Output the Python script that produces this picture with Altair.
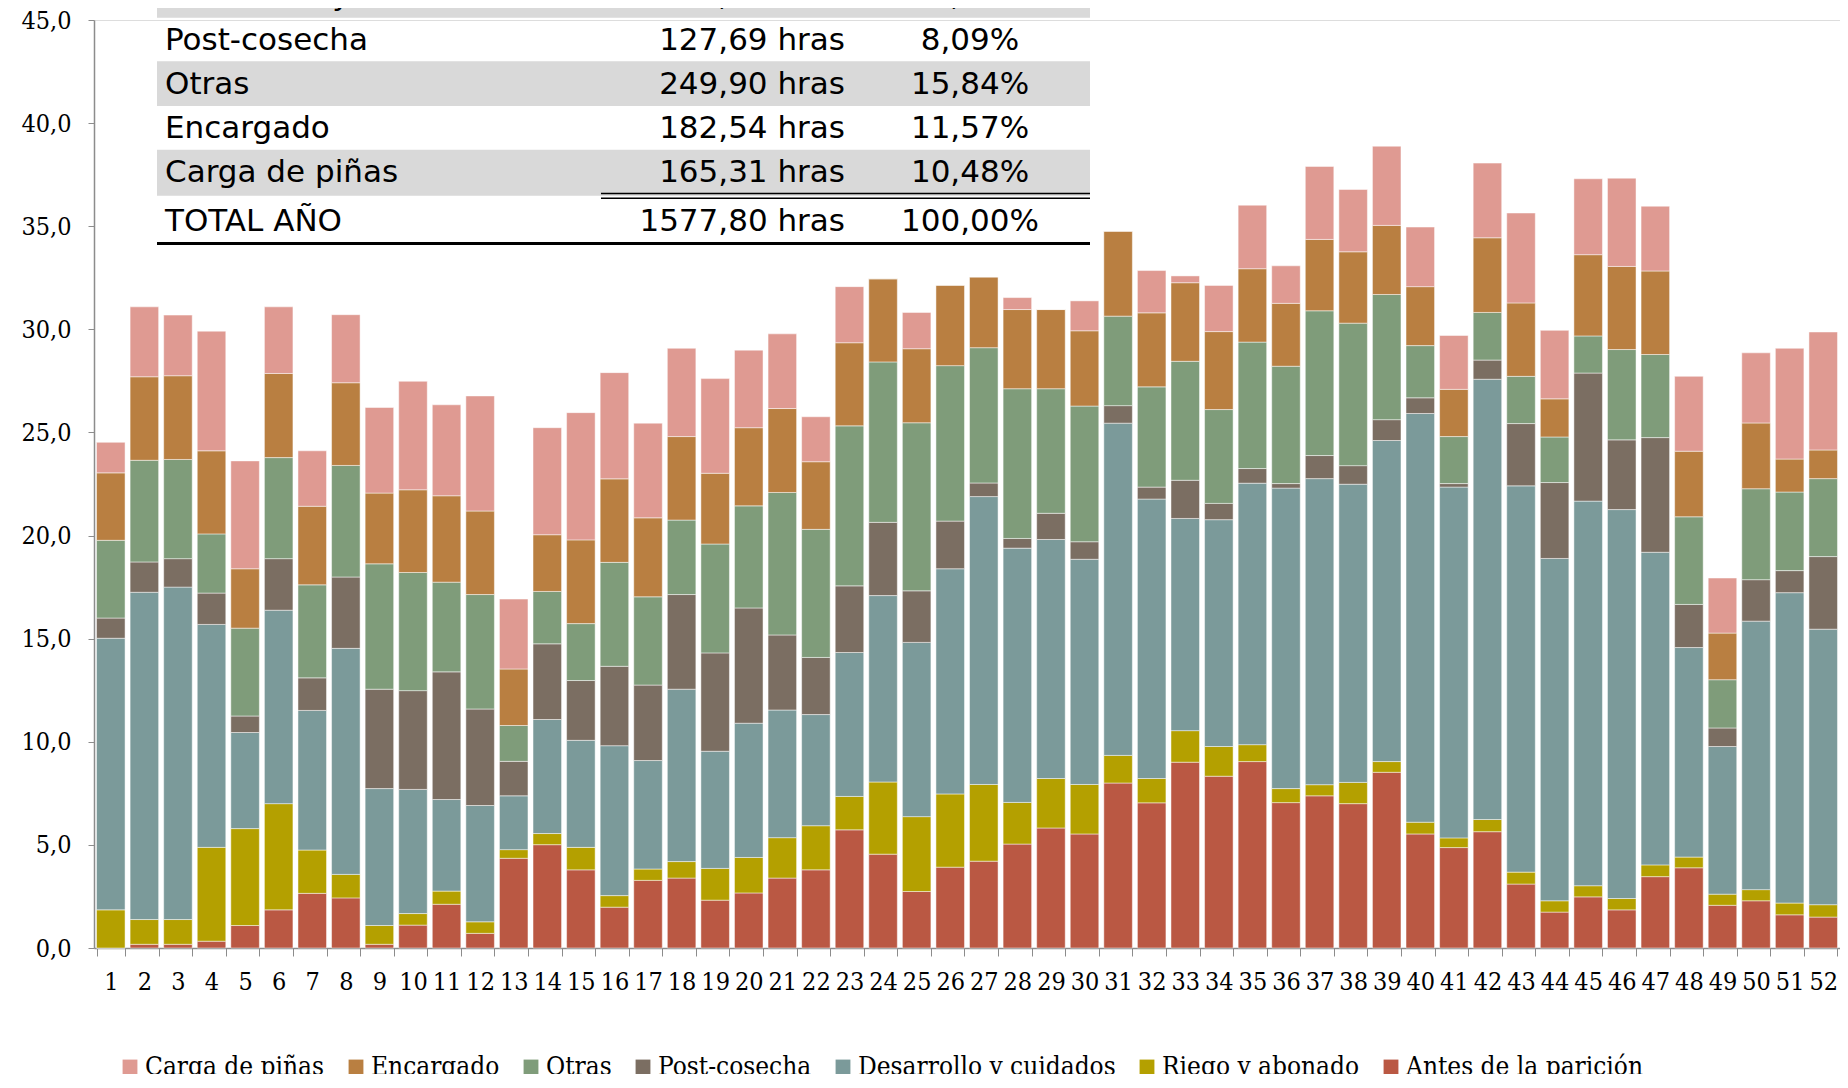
import altair as alt
import pandas as pd

weeks = list(range(1, 53))

categories = ["Antes de la parición", "Riego y abonado", "Desarrollo y cuidados",
              "Post-cosecha", "Otras", "Encargado", "Carga de piñas"]
colors = ["#BA5843", "#B4A000", "#7B9A9A", "#7B6E62", "#7F9C7A", "#B97F41", "#DF9A92"]

antes = [0.00, 0.18, 0.18, 0.33, 1.09, 1.85, 2.65, 2.43, 0.18, 1.11,
         2.12, 0.71, 4.35, 5.01, 3.79, 1.98, 3.28, 3.39, 2.32, 2.67,
         3.39, 3.79, 5.73, 4.55, 2.74, 3.92, 4.21, 5.04, 5.82, 5.53,
         8.00, 7.04, 9.01, 8.33, 9.04, 7.05, 7.38, 7.00, 8.52, 5.53,
         4.87, 5.64, 3.10, 1.74, 2.48, 1.85, 3.46, 3.89, 2.07, 2.29,
         1.61, 1.50]
riego = [1.85, 1.20, 1.20, 4.55, 4.70, 5.15, 2.10, 1.14, 0.91, 0.56,
         0.64, 0.56, 0.42, 0.54, 1.09, 0.56, 0.55, 0.80, 1.54, 1.72,
         1.96, 2.14, 1.62, 3.50, 3.63, 3.55, 3.72, 2.02, 2.40, 2.40,
         1.34, 1.18, 1.53, 1.44, 0.82, 0.68, 0.54, 1.03, 0.52, 0.57,
         0.47, 0.59, 0.58, 0.55, 0.54, 0.55, 0.57, 0.52, 0.54, 0.54,
         0.57, 0.60]
desarrollo = [13.17, 15.87, 16.12, 10.81, 4.66, 9.38, 6.77, 10.96, 6.64, 6.02,
              4.44, 5.64, 2.61, 5.53, 5.19, 7.27, 5.26, 8.36, 5.68, 6.51,
              6.19, 5.39, 6.98, 9.04, 8.45, 10.92, 13.96, 12.33, 11.59, 10.92,
              16.11, 13.55, 10.29, 11.00, 12.68, 14.57, 14.84, 14.46, 15.57, 19.82,
              17.01, 21.35, 18.73, 16.60, 18.65, 18.86, 15.16, 10.16, 7.16, 13.02,
              15.05, 13.36]
postcosecha = [0.98, 1.47, 1.38, 1.52, 0.80, 2.50, 1.58, 3.46, 4.82, 4.79,
               6.19, 4.68, 1.67, 3.67, 2.90, 3.85, 3.66, 4.59, 4.77, 5.59,
               3.64, 2.77, 3.23, 3.55, 2.50, 2.31, 0.66, 0.47, 1.27, 0.85,
               0.85, 0.58, 1.85, 0.79, 0.71, 0.22, 1.12, 0.90, 1.01, 0.76,
               0.17, 0.93, 3.02, 3.68, 6.21, 3.38, 5.56, 2.09, 0.90, 2.01,
               1.07, 3.52]
otras = [3.77, 4.93, 4.81, 2.87, 4.26, 4.90, 4.51, 5.41, 6.08, 5.73,
         4.35, 5.55, 1.74, 2.54, 2.76, 5.04, 4.28, 3.61, 5.28, 4.95,
         6.91, 6.21, 7.76, 7.78, 8.15, 7.54, 6.56, 7.26, 6.04, 6.58,
         4.34, 4.86, 5.77, 4.55, 6.13, 5.69, 7.02, 6.91, 6.07, 2.53,
         2.28, 2.31, 2.29, 2.21, 1.80, 4.38, 4.03, 4.25, 2.34, 4.41,
         3.81, 3.78]
encargado = [3.27, 4.05, 4.06, 4.03, 2.88, 4.08, 3.81, 4.01, 3.43, 4.01,
             4.19, 4.05, 2.74, 2.75, 4.06, 4.05, 3.83, 4.05, 3.43, 3.79,
             4.07, 3.28, 4.03, 4.03, 3.59, 3.90, 3.43, 3.84, 3.84, 3.65,
             4.12, 3.59, 3.81, 3.78, 3.56, 3.05, 3.46, 3.46, 3.35, 2.86,
             2.29, 3.62, 3.56, 1.85, 3.94, 4.03, 4.05, 3.18, 2.26, 3.19,
             1.60, 1.39]
carga = [1.48, 3.39, 2.94, 5.80, 5.23, 3.23, 2.69, 3.30, 4.15, 5.26,
         4.41, 5.58, 3.39, 5.19, 6.17, 5.15, 4.59, 4.28, 4.59, 3.76,
         3.62, 2.18, 2.72, 0.00, 1.76, 0.00, 0.00, 0.58, 0.00, 1.45,
         0.00, 2.05, 0.33, 2.24, 3.08, 1.82, 3.54, 3.02, 3.84, 2.89,
         2.61, 3.62, 4.36, 3.32, 3.68, 4.28, 3.14, 3.63, 2.67, 3.40,
         5.37, 5.72]

series = [antes, riego, desarrollo, postcosecha, otras, encargado, carga]

# summary table (only the visible rows)
tabla_actividad = ["Desarrollo y cuidados", "Post-cosecha", "Otras", "Encargado",
                   "Carga de piñas", "TOTAL AÑO"]
tabla_horas = ["580,15 hras", "127,69 hras", "249,90 hras", "182,54 hras",
               "165,31 hras", "1577,80 hras"]
tabla_pct = ["36,77%", "8,09%", "15,84%", "11,57%", "10,48%", "100,00%"]

rows = []
for k, (cat, vals) in enumerate(zip(categories, series)):
    for w, v in zip(weeks, vals):
        rows.append({"semana": w, "actividad": cat, "horas": v, "orden": k})
df = pd.DataFrame(rows)

legend_order = list(reversed(categories))
legend_colors = list(reversed(colors))

SERIF = "'DejaVu Serif Condensed', 'Liberation Serif', serif"
SANS = "'DejaVu Sans', 'Open Sans', sans-serif"

bars = alt.Chart(df).mark_bar(stroke="white", strokeWidth=0.8, strokeOpacity=0.6).encode(
    x=alt.X("semana:O",
            scale=alt.Scale(paddingInner=0.15, paddingOuter=0.075),
            axis=alt.Axis(title=None, labelAngle=0, tickBand="extent", tickSize=8,
                          labelPadding=13, labelFont=SERIF, labelFontSize=25,
                          labelColor="black", domainColor="#8c8c8c", tickColor="#8c8c8c",
                          domainWidth=1.5)),
    y=alt.Y("horas:Q", stack="zero",
            scale=alt.Scale(domain=[0, 45], nice=False),
            axis=alt.Axis(title=None, values=[0, 5, 10, 15, 20, 25, 30, 35, 40, 45],
                          labelExpr="replace(format(datum.value, '.1f'), '.', ',')",
                          grid=False, tickSize=6, labelPadding=17, labelFont=SERIF,
                          labelFontSize=25, labelColor="black",
                          domainColor="#8c8c8c", tickColor="#8c8c8c", domainWidth=1.5)),
    color=alt.Color("actividad:N",
                    scale=alt.Scale(domain=legend_order, range=legend_colors),
                    legend=alt.Legend(title=None, orient="none", legendX=23, legendY=1034,
                                      direction="horizontal", columns=7,
                                      symbolType="square", symbolSize=220,
                                      symbolStrokeWidth=0, labelFont=SERIF,
                                      labelFontSize=26, labelColor="black", labelLimit=0,
                                      labelOffset=2, columnPadding=18, padding=0)),
    order=alt.Order("orden:Q", sort="ascending"),
)

# table layout (value-space rows)
row_y = [46.18, 44.00, 41.86, 39.72, 37.58, 35.20]
tdf = pd.DataFrame({"act": tabla_actividad, "hrs": tabla_horas, "pct": tabla_pct, "ty": row_y})

gray = pd.DataFrame({"y1": [45.11, 40.83, 36.48], "y2": [47.6, 43.0, 38.71]})
bg = alt.Chart(gray).mark_rect(color="#D9D9D9").encode(
    x=alt.value(63), x2=alt.value(996), y="y1:Q", y2="y2:Q")

t1 = alt.Chart(tdf).mark_text(align="left", baseline="middle", font=SANS, fontSize=31,
                              color="black").encode(x=alt.value(71), y="ty:Q", text="act:N")
t2 = alt.Chart(tdf).mark_text(align="right", baseline="middle", font=SANS, fontSize=31,
                              color="black").encode(x=alt.value(751), y="ty:Q", text="hrs:N")
t3 = alt.Chart(tdf).mark_text(align="center", baseline="middle", font=SANS, fontSize=31,
                              color="black").encode(x=alt.value(876), y="ty:Q", text="pct:N")

dbl = pd.DataFrame({"ry": [36.59, 36.36]})
rules2 = alt.Chart(dbl).mark_rule(color="black", strokeWidth=1.6).encode(
    x=alt.value(507), x2=alt.value(996), y="ry:Q")
thick = pd.DataFrame({"ry": [34.16]})
rule3 = alt.Chart(thick).mark_rule(color="black", strokeWidth=3).encode(
    x=alt.value(63), x2=alt.value(996), y="ry:Q")

chart = alt.layer(bars, bg, t1, t2, t3, rules2, rule3).properties(
    width=1746, height=928,
    autosize=alt.AutoSizeParams(type="none"),
    padding={"left": 86, "top": 12, "right": 0, "bottom": 126},
).configure_view(stroke=None).configure(background="white")

chart.save("out.html", embed_options={"renderer": "svg", "actions": False})
